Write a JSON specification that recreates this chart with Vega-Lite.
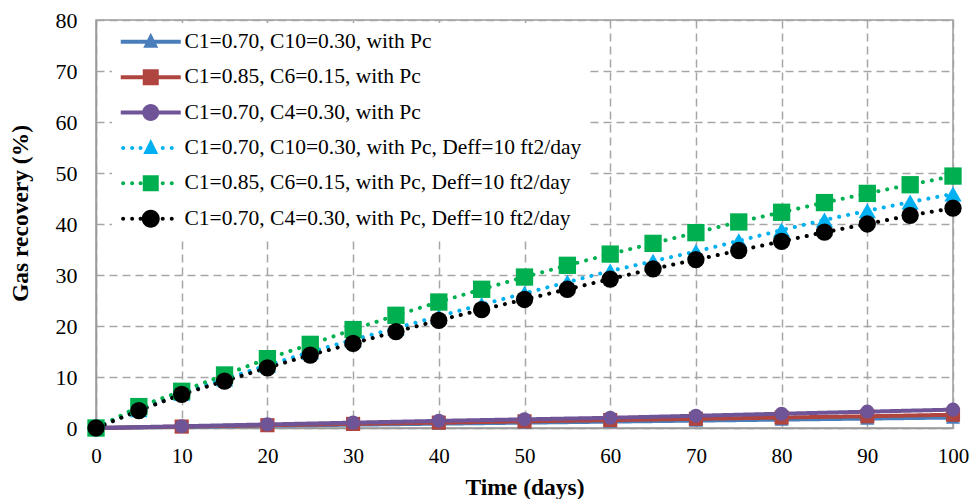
{
  "$schema": "https://vega.github.io/schema/vega-lite/v6.json",
  "autosize": "none",
  "width": 857,
  "height": 408,
  "padding": {"left": 96, "top": 20, "right": 17, "bottom": 71},
  "background": "white",
  "config": {
    "font": "Liberation Serif",
    "view": {"stroke": "#9a9a9a", "strokeWidth": 1.5},
    "axis": {
      "labelFont": "Liberation Serif",
      "labelFontSize": 22,
      "labelColor": "black",
      "titleFont": "Liberation Serif",
      "titleFontSize": 23.5,
      "titleFontWeight": "bold",
      "titleColor": "black",
      "gridColor": "#a6a6a6",
      "gridDash": [8, 5],
      "gridWidth": 1.5,
      "domainColor": "#9a9a9a",
      "domainWidth": 1.5,
      "ticks": false,
      "tickSize": 0
    },
    "legend": {
      "labelFont": "Liberation Serif",
      "labelFontSize": 21.5,
      "labelColor": "black",
      "labelLimit": 600
    }
  },
  "data": {
    "values": [
      {"day": 0, "rec": 0, "series": "C1=0.70, C10=0.30, with Pc"},
      {"day": 10, "rec": 0.22, "series": "C1=0.70, C10=0.30, with Pc"},
      {"day": 20, "rec": 0.45, "series": "C1=0.70, C10=0.30, with Pc"},
      {"day": 30, "rec": 0.65, "series": "C1=0.70, C10=0.30, with Pc"},
      {"day": 40, "rec": 0.85, "series": "C1=0.70, C10=0.30, with Pc"},
      {"day": 50, "rec": 1.05, "series": "C1=0.70, C10=0.30, with Pc"},
      {"day": 60, "rec": 1.25, "series": "C1=0.70, C10=0.30, with Pc"},
      {"day": 70, "rec": 1.45, "series": "C1=0.70, C10=0.30, with Pc"},
      {"day": 80, "rec": 1.65, "series": "C1=0.70, C10=0.30, with Pc"},
      {"day": 90, "rec": 1.85, "series": "C1=0.70, C10=0.30, with Pc"},
      {"day": 100, "rec": 2.05, "series": "C1=0.70, C10=0.30, with Pc"},
      {"day": 0, "rec": 0, "series": "C1=0.85, C6=0.15, with Pc"},
      {"day": 10, "rec": 0.28, "series": "C1=0.85, C6=0.15, with Pc"},
      {"day": 20, "rec": 0.55, "series": "C1=0.85, C6=0.15, with Pc"},
      {"day": 30, "rec": 0.8, "series": "C1=0.85, C6=0.15, with Pc"},
      {"day": 40, "rec": 1.05, "series": "C1=0.85, C6=0.15, with Pc"},
      {"day": 50, "rec": 1.3, "series": "C1=0.85, C6=0.15, with Pc"},
      {"day": 60, "rec": 1.55, "series": "C1=0.85, C6=0.15, with Pc"},
      {"day": 70, "rec": 1.8, "series": "C1=0.85, C6=0.15, with Pc"},
      {"day": 80, "rec": 2.05, "series": "C1=0.85, C6=0.15, with Pc"},
      {"day": 90, "rec": 2.3, "series": "C1=0.85, C6=0.15, with Pc"},
      {"day": 100, "rec": 2.6, "series": "C1=0.85, C6=0.15, with Pc"},
      {"day": 0, "rec": 0, "series": "C1=0.70, C4=0.30, with Pc"},
      {"day": 10, "rec": 0.35, "series": "C1=0.70, C4=0.30, with Pc"},
      {"day": 20, "rec": 0.7, "series": "C1=0.70, C4=0.30, with Pc"},
      {"day": 30, "rec": 1.05, "series": "C1=0.70, C4=0.30, with Pc"},
      {"day": 40, "rec": 1.4, "series": "C1=0.70, C4=0.30, with Pc"},
      {"day": 50, "rec": 1.7, "series": "C1=0.70, C4=0.30, with Pc"},
      {"day": 60, "rec": 2.0, "series": "C1=0.70, C4=0.30, with Pc"},
      {"day": 70, "rec": 2.4, "series": "C1=0.70, C4=0.30, with Pc"},
      {"day": 80, "rec": 2.8, "series": "C1=0.70, C4=0.30, with Pc"},
      {"day": 90, "rec": 3.2, "series": "C1=0.70, C4=0.30, with Pc"},
      {"day": 100, "rec": 3.6, "series": "C1=0.70, C4=0.30, with Pc"},
      {"day": 0, "rec": 0, "series": "C1=0.70, C10=0.30, with Pc, Deff=10 ft2/day"},
      {"day": 5, "rec": 3.6, "series": "C1=0.70, C10=0.30, with Pc, Deff=10 ft2/day"},
      {"day": 10, "rec": 6.8, "series": "C1=0.70, C10=0.30, with Pc, Deff=10 ft2/day"},
      {"day": 15, "rec": 9.6, "series": "C1=0.70, C10=0.30, with Pc, Deff=10 ft2/day"},
      {"day": 20, "rec": 12.3, "series": "C1=0.70, C10=0.30, with Pc, Deff=10 ft2/day"},
      {"day": 25, "rec": 14.9, "series": "C1=0.70, C10=0.30, with Pc, Deff=10 ft2/day"},
      {"day": 30, "rec": 17.3, "series": "C1=0.70, C10=0.30, with Pc, Deff=10 ft2/day"},
      {"day": 35, "rec": 19.6, "series": "C1=0.70, C10=0.30, with Pc, Deff=10 ft2/day"},
      {"day": 40, "rec": 21.9, "series": "C1=0.70, C10=0.30, with Pc, Deff=10 ft2/day"},
      {"day": 45, "rec": 24.2, "series": "C1=0.70, C10=0.30, with Pc, Deff=10 ft2/day"},
      {"day": 50, "rec": 26.4, "series": "C1=0.70, C10=0.30, with Pc, Deff=10 ft2/day"},
      {"day": 55, "rec": 28.6, "series": "C1=0.70, C10=0.30, with Pc, Deff=10 ft2/day"},
      {"day": 60, "rec": 30.8, "series": "C1=0.70, C10=0.30, with Pc, Deff=10 ft2/day"},
      {"day": 65, "rec": 32.7, "series": "C1=0.70, C10=0.30, with Pc, Deff=10 ft2/day"},
      {"day": 70, "rec": 34.6, "series": "C1=0.70, C10=0.30, with Pc, Deff=10 ft2/day"},
      {"day": 75, "rec": 36.7, "series": "C1=0.70, C10=0.30, with Pc, Deff=10 ft2/day"},
      {"day": 80, "rec": 38.8, "series": "C1=0.70, C10=0.30, with Pc, Deff=10 ft2/day"},
      {"day": 85, "rec": 40.8, "series": "C1=0.70, C10=0.30, with Pc, Deff=10 ft2/day"},
      {"day": 90, "rec": 42.6, "series": "C1=0.70, C10=0.30, with Pc, Deff=10 ft2/day"},
      {"day": 95, "rec": 44.3, "series": "C1=0.70, C10=0.30, with Pc, Deff=10 ft2/day"},
      {"day": 100, "rec": 45.9, "series": "C1=0.70, C10=0.30, with Pc, Deff=10 ft2/day"},
      {"day": 0, "rec": 0, "series": "C1=0.85, C6=0.15, with Pc, Deff=10 ft2/day"},
      {"day": 5, "rec": 4.2, "series": "C1=0.85, C6=0.15, with Pc, Deff=10 ft2/day"},
      {"day": 10, "rec": 7.2, "series": "C1=0.85, C6=0.15, with Pc, Deff=10 ft2/day"},
      {"day": 15, "rec": 10.4, "series": "C1=0.85, C6=0.15, with Pc, Deff=10 ft2/day"},
      {"day": 20, "rec": 13.6, "series": "C1=0.85, C6=0.15, with Pc, Deff=10 ft2/day"},
      {"day": 25, "rec": 16.4, "series": "C1=0.85, C6=0.15, with Pc, Deff=10 ft2/day"},
      {"day": 30, "rec": 19.3, "series": "C1=0.85, C6=0.15, with Pc, Deff=10 ft2/day"},
      {"day": 35, "rec": 22.1, "series": "C1=0.85, C6=0.15, with Pc, Deff=10 ft2/day"},
      {"day": 40, "rec": 24.7, "series": "C1=0.85, C6=0.15, with Pc, Deff=10 ft2/day"},
      {"day": 45, "rec": 27.2, "series": "C1=0.85, C6=0.15, with Pc, Deff=10 ft2/day"},
      {"day": 50, "rec": 29.6, "series": "C1=0.85, C6=0.15, with Pc, Deff=10 ft2/day"},
      {"day": 55, "rec": 31.9, "series": "C1=0.85, C6=0.15, with Pc, Deff=10 ft2/day"},
      {"day": 60, "rec": 34.1, "series": "C1=0.85, C6=0.15, with Pc, Deff=10 ft2/day"},
      {"day": 65, "rec": 36.2, "series": "C1=0.85, C6=0.15, with Pc, Deff=10 ft2/day"},
      {"day": 70, "rec": 38.3, "series": "C1=0.85, C6=0.15, with Pc, Deff=10 ft2/day"},
      {"day": 75, "rec": 40.4, "series": "C1=0.85, C6=0.15, with Pc, Deff=10 ft2/day"},
      {"day": 80, "rec": 42.3, "series": "C1=0.85, C6=0.15, with Pc, Deff=10 ft2/day"},
      {"day": 85, "rec": 44.2, "series": "C1=0.85, C6=0.15, with Pc, Deff=10 ft2/day"},
      {"day": 90, "rec": 46.0, "series": "C1=0.85, C6=0.15, with Pc, Deff=10 ft2/day"},
      {"day": 95, "rec": 47.7, "series": "C1=0.85, C6=0.15, with Pc, Deff=10 ft2/day"},
      {"day": 100, "rec": 49.4, "series": "C1=0.85, C6=0.15, with Pc, Deff=10 ft2/day"},
      {"day": 0, "rec": 0, "series": "C1=0.70, C4=0.30, with Pc, Deff=10 ft2/day"},
      {"day": 5, "rec": 3.4, "series": "C1=0.70, C4=0.30, with Pc, Deff=10 ft2/day"},
      {"day": 10, "rec": 6.6, "series": "C1=0.70, C4=0.30, with Pc, Deff=10 ft2/day"},
      {"day": 15, "rec": 9.2, "series": "C1=0.70, C4=0.30, with Pc, Deff=10 ft2/day"},
      {"day": 20, "rec": 11.8, "series": "C1=0.70, C4=0.30, with Pc, Deff=10 ft2/day"},
      {"day": 25, "rec": 14.3, "series": "C1=0.70, C4=0.30, with Pc, Deff=10 ft2/day"},
      {"day": 30, "rec": 16.6, "series": "C1=0.70, C4=0.30, with Pc, Deff=10 ft2/day"},
      {"day": 35, "rec": 18.9, "series": "C1=0.70, C4=0.30, with Pc, Deff=10 ft2/day"},
      {"day": 40, "rec": 21.1, "series": "C1=0.70, C4=0.30, with Pc, Deff=10 ft2/day"},
      {"day": 45, "rec": 23.2, "series": "C1=0.70, C4=0.30, with Pc, Deff=10 ft2/day"},
      {"day": 50, "rec": 25.2, "series": "C1=0.70, C4=0.30, with Pc, Deff=10 ft2/day"},
      {"day": 55, "rec": 27.2, "series": "C1=0.70, C4=0.30, with Pc, Deff=10 ft2/day"},
      {"day": 60, "rec": 29.2, "series": "C1=0.70, C4=0.30, with Pc, Deff=10 ft2/day"},
      {"day": 65, "rec": 31.2, "series": "C1=0.70, C4=0.30, with Pc, Deff=10 ft2/day"},
      {"day": 70, "rec": 33.0, "series": "C1=0.70, C4=0.30, with Pc, Deff=10 ft2/day"},
      {"day": 75, "rec": 34.8, "series": "C1=0.70, C4=0.30, with Pc, Deff=10 ft2/day"},
      {"day": 80, "rec": 36.6, "series": "C1=0.70, C4=0.30, with Pc, Deff=10 ft2/day"},
      {"day": 85, "rec": 38.4, "series": "C1=0.70, C4=0.30, with Pc, Deff=10 ft2/day"},
      {"day": 90, "rec": 40.0, "series": "C1=0.70, C4=0.30, with Pc, Deff=10 ft2/day"},
      {"day": 95, "rec": 41.7, "series": "C1=0.70, C4=0.30, with Pc, Deff=10 ft2/day"},
      {"day": 100, "rec": 43.1, "series": "C1=0.70, C4=0.30, with Pc, Deff=10 ft2/day"}
    ]
  },
  "encoding": {
    "x": {
      "field": "day", "type": "quantitative",
      "scale": {"domain": [0, 100], "nice": false},
      "axis": {"values": [0, 10, 20, 30, 40, 50, 60, 70, 80, 90, 100], "title": "Time (days)", "labelPadding": 17, "labelFontSize": 21, "titlePadding": 9, "labelFlush": false}
    },
    "y": {
      "field": "rec", "type": "quantitative",
      "scale": {"domain": [0, 80], "nice": false},
      "axis": {"values": [0, 10, 20, 30, 40, 50, 60, 70, 80], "title": "Gas recovery (%)", "labelPadding": 19, "titleX": -64, "titleY": 193, "titleAngle": -90, "titleAlign": "center", "titleBaseline": "bottom", "labelFlush": false}
    },
    "color": {
      "field": "series", "type": "nominal",
      "scale": {
        "domain": ["C1=0.70, C10=0.30, with Pc", "C1=0.85, C6=0.15, with Pc", "C1=0.70, C4=0.30, with Pc", "C1=0.70, C10=0.30, with Pc, Deff=10 ft2/day", "C1=0.85, C6=0.15, with Pc, Deff=10 ft2/day", "C1=0.70, C4=0.30, with Pc, Deff=10 ft2/day"],
        "range": ["#4A7EBB", "#B0443F", "#6F5597", "#00B0F0", "#00B050", "#000000"]
      },
      "legend": {
        "title": null,
        "orient": "none",
        "legendX": 16,
        "legendY": 3,
        "padding": 8,
        "fillColor": "white",
        "symbolSize": 400,
        "labelOffset": 43,
        "rowPadding": 12.4,
        "symbolType": "circle",
        "encode": {
          "symbols": {
            "update": {
              "fill": {"scale": "color", "field": "value"},
              "stroke": {"value": "transparent"},
              "strokeWidth": {"value": 0},
              "opacity": {"value": 1},
              "size": {"value": 400},
              "shape": {"signal": "['M-1,-0.2L5,-0.2L5,0.2L-1,0.2Z M2,-0.9L2.75,0.6L1.25,0.6Z', 'M-1,-0.2L5,-0.2L5,0.2L-1,0.2Z M1.2,-0.8L2.8,-0.8L2.8,0.8L1.2,0.8Z', 'M-1,-0.2L5,-0.2L5,0.2L-1,0.2Z M1.15,0A0.85,0.85 0 1,1 2.85,0A0.85,0.85 0 1,1 1.15,0Z', 'M-0.96,0A0.2,0.2 0 1,1 -0.56,0A0.2,0.2 0 1,1 -0.96,0Z M-0.06,0A0.2,0.2 0 1,1 0.34,0A0.2,0.2 0 1,1 -0.06,0Z M0.78,0A0.2,0.2 0 1,1 1.18,0A0.2,0.2 0 1,1 0.78,0Z M3,0A0.2,0.2 0 1,1 3.4,0A0.2,0.2 0 1,1 3,0Z M3.9,0A0.2,0.2 0 1,1 4.3,0A0.2,0.2 0 1,1 3.9,0Z M2,-0.9L2.75,0.6L1.25,0.6Z', 'M-0.96,0A0.2,0.2 0 1,1 -0.56,0A0.2,0.2 0 1,1 -0.96,0Z M-0.06,0A0.2,0.2 0 1,1 0.34,0A0.2,0.2 0 1,1 -0.06,0Z M0.78,0A0.2,0.2 0 1,1 1.18,0A0.2,0.2 0 1,1 0.78,0Z M3,0A0.2,0.2 0 1,1 3.4,0A0.2,0.2 0 1,1 3,0Z M3.9,0A0.2,0.2 0 1,1 4.3,0A0.2,0.2 0 1,1 3.9,0Z M1.2,-0.8L2.8,-0.8L2.8,0.8L1.2,0.8Z', 'M-0.96,0A0.2,0.2 0 1,1 -0.56,0A0.2,0.2 0 1,1 -0.96,0Z M-0.06,0A0.2,0.2 0 1,1 0.34,0A0.2,0.2 0 1,1 -0.06,0Z M0.78,0A0.2,0.2 0 1,1 1.18,0A0.2,0.2 0 1,1 0.78,0Z M3,0A0.2,0.2 0 1,1 3.4,0A0.2,0.2 0 1,1 3,0Z M3.9,0A0.2,0.2 0 1,1 4.3,0A0.2,0.2 0 1,1 3.9,0Z M1.1,0A0.9,0.9 0 1,1 2.9,0A0.9,0.9 0 1,1 1.1,0Z'][indexof(['C1=0.70, C10=0.30, with Pc', 'C1=0.85, C6=0.15, with Pc', 'C1=0.70, C4=0.30, with Pc', 'C1=0.70, C10=0.30, with Pc, Deff=10 ft2/day', 'C1=0.85, C6=0.15, with Pc, Deff=10 ft2/day', 'C1=0.70, C4=0.30, with Pc, Deff=10 ft2/day'], datum.value)]"}
            }
          }
        }
      }
    }
  },
  "layer": [
    {
      "mark": {"type": "line", "strokeWidth": 4, "strokeCap": "round"},
      "encoding": {
        "strokeDash": {
          "field": "series", "type": "nominal",
          "scale": {
            "domain": ["C1=0.70, C10=0.30, with Pc", "C1=0.85, C6=0.15, with Pc", "C1=0.70, C4=0.30, with Pc", "C1=0.70, C10=0.30, with Pc, Deff=10 ft2/day", "C1=0.85, C6=0.15, with Pc, Deff=10 ft2/day", "C1=0.70, C4=0.30, with Pc, Deff=10 ft2/day"],
            "range": [[1, 0], [1, 0], [1, 0], [0.1, 9], [0.1, 9], [0.1, 9]]
          },
          "legend": null
        }
      }
    },
    {
      "transform": [{"filter": "indexof(datum.series, 'Deff') < 0"}],
      "mark": {"type": "point", "filled": true, "opacity": 1, "size": 200},
      "encoding": {
        "shape": {
          "field": "series", "type": "nominal",
          "scale": {
            "domain": ["C1=0.70, C10=0.30, with Pc", "C1=0.85, C6=0.15, with Pc", "C1=0.70, C4=0.30, with Pc"],
            "range": ["triangle-up", "square", "circle"]
          },
          "legend": null
        }
      }
    },
    {
      "transform": [{"filter": "indexof(datum.series, 'Deff') >= 0"}],
      "mark": {"type": "point", "filled": true, "opacity": 1, "size": 300},
      "encoding": {
        "shape": {
          "field": "series", "type": "nominal",
          "scale": {
            "domain": ["C1=0.70, C10=0.30, with Pc, Deff=10 ft2/day", "C1=0.85, C6=0.15, with Pc, Deff=10 ft2/day", "C1=0.70, C4=0.30, with Pc, Deff=10 ft2/day"],
            "range": ["triangle-up", "square", "circle"]
          },
          "legend": null
        }
      }
    }
  ]
}
